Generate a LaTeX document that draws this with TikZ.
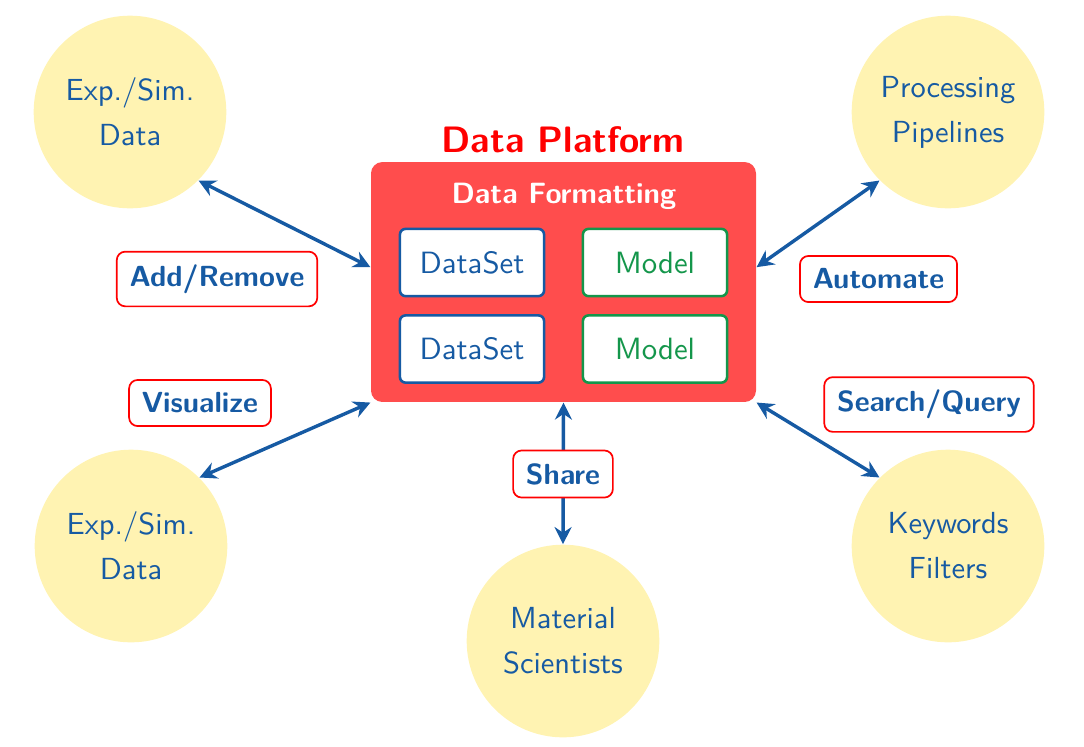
\documentclass[tikz,border=0pt]{standalone}
\usetikzlibrary{arrows.meta,calc}
\definecolor{tblue}{RGB}{22,90,163}
\definecolor{tgreen}{RGB}{20,150,75}
\definecolor{cyell}{RGB}{255,243,178}
\definecolor{pred}{RGB}{255,77,77}
\tikzset{
  circ/.style={circle,fill=cyell,minimum size=67.6pt,inner sep=0pt,align=center,text=tblue,
    font={\sffamily\fontsize{10.7}{15.8}\selectfont}},
  dsbox/.style={draw=tblue,fill=white,line width=0.9pt,rounded corners=2pt,minimum width=50.6pt,minimum height=23.6pt,text=tblue,font={\sffamily\fontsize{10.8}{13}\selectfont}},
  mdbox/.style={draw=tgreen,fill=white,line width=0.9pt,rounded corners=2pt,minimum width=50.6pt,minimum height=23.6pt,text=tgreen,font={\sffamily\fontsize{10.8}{13}\selectfont}},
  lbl/.style={draw=red,fill=white,line width=0.6pt,rounded corners=3pt,inner sep=4.5pt,text=tblue,font={\sffamily\bfseries\fontsize{10.2}{12}\selectfont}},
  arr/.style={draw=tblue,line width=1.2pt,{Stealth[length=6pt,width=6pt,inset=2pt]}-{Stealth[length=6pt,width=6pt,inset=2pt]}}
}
\begin{document}
\begin{tikzpicture}[x=0.3509pt,y=-0.3509pt]
\useasboundingbox (0,0) rectangle (1084,746);
% main platform
\node[fill=pred,rounded corners=4pt,minimum width=135.1pt,minimum height=84.2pt,inner sep=0pt] (plat) at (563.5,282) {};
\node[anchor=base,text=red,font={\sffamily\bfseries\fontsize{12.9}{15}\selectfont}] (title) at (563,152) {Data Platform};
\node[anchor=base,text=white,font={\sffamily\bfseries\fontsize{10.3}{12}\selectfont}] (fmt) at (564,203) {Data Formatting};
\node[dsbox] (ds1) at (472,262.5) {DataSet};
\node[mdbox] (md1) at (655,262.5) {Model};
\node[dsbox] (ds2) at (472,349) {DataSet};
\node[mdbox] (md2) at (655,349) {Model};
% circles
\node[circ] (c1) at (130,112) {Exp./Sim.\\Data};
\node[circ] (c2) at (948,112) {Processing\\Pipelines};
\node[circ] (c3) at (131,546) {Exp./Sim.\\Data};
\node[circ] (c4) at (948,546) {Keywords\\Filters};
\node[circ] (c5) at (563,641) {Material\\Scientists};
% arrows
\draw[arr] (c1.-45) -- ([yshift=5.2pt]plat.west);
\draw[arr] ([yshift=5.2pt]plat.east) -- (c2.-135);
\draw[arr] (plat.south west) -- (c3.45);
\draw[arr] (plat.south east) -- (c4.135);
\draw[arr] (plat.south) -- (c5.north);
% labels
\node[lbl] (l1) at (217,279) {Add/Remove};
\node[lbl] (l2) at (200,403) {Visualize};
\node[lbl] (l3) at (878.5,279) {Automate};
\node[lbl] (l4) at (929,404.5) {Search/Query};
\node[lbl] (l5) at (563,474) {Share};
\end{tikzpicture}
\end{document}
